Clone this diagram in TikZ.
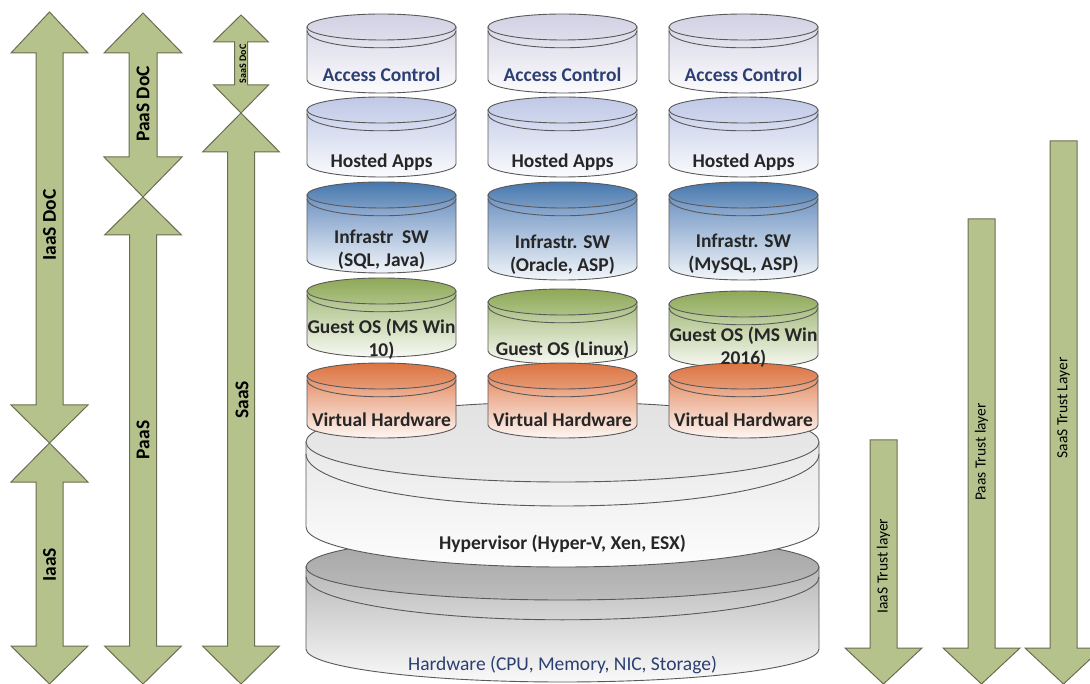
\documentclass[tikz,border=0pt]{standalone}
\usepackage{fontspec}
\setmainfont{Carlito}
\definecolor{edgegray}{HTML}{595959}
\definecolor{arrowfill}{HTML}{B6C28C}
\definecolor{arrowedge}{HTML}{6B6D50}
\definecolor{acTop}{HTML}{D2D1E4}
\definecolor{acBody}{HTML}{D9D8E8}
\definecolor{haTop}{HTML}{BFC8E6}
\definecolor{haBody}{HTML}{C8D0EA}
\definecolor{isTop}{HTML}{4677AE}
\definecolor{isBody}{HTML}{6D92C2}
\definecolor{goTop}{HTML}{8EA957}
\definecolor{goBody}{HTML}{A6BC7C}
\definecolor{vhTop}{HTML}{DD7341}
\definecolor{vhBody}{HTML}{E58E66}
\definecolor{hvTop}{HTML}{E2E2E2}
\definecolor{hvBody}{HTML}{E8E8E8}
\definecolor{hwTop}{HTML}{A3A3A3}
\definecolor{hwBody}{HTML}{B8B8B8}
\definecolor{txtBlue}{HTML}{2B3F73}
\definecolor{txtDark}{HTML}{262626}

\tikzset{
  drumedge/.style={draw=edgegray, line width=0.9pt},
  arrowshape/.style={draw=arrowedge, fill=arrowfill, line width=1pt, line join=miter},
  lyrtxt/.style={font=\fontsize{19.5}{23}\selectfont\bfseries, text=txtDark, align=center, inner sep=0pt},
  blutxt/.style={lyrtxt, text=txtBlue},
  hwtxt/.style={font=\fontsize{19.5}{23}\selectfont, text=txtBlue, inner sep=0pt},
  doctxt/.style={font=\fontsize{19.5}{23}\selectfont\bfseries, text=black, rotate=90, inner sep=0pt},
  smalldoc/.style={font=\fontsize{10}{12}\selectfont\bfseries, text=black, rotate=90, inner sep=0pt},
  trusttxt/.style={font=\fontsize{15.5}{18}\selectfont, text=black, rotate=90, inner sep=0pt},
}

% drum: name, centre x, top y, bottom y, x radius, y radius, lid colour, body colour
\newcommand\drum[8]{%
  \pgfmathsetmacro\dL{#2-#5}\pgfmathsetmacro\dR{#2+#5}%
  \pgfmathsetmacro\dC{#3+#6}\pgfmathsetmacro\dB{#4-#6}%
  \pgfmathsetmacro\dRim{#3+1.3*#6}\pgfmathsetmacro\dRimR{1.3*#6}%
  \path[drumedge, top color=#8, bottom color=#8!8!white]
    (\dL,\dC) -- (\dL,\dB) arc[start angle=180, end angle=360, x radius=#5pt, y radius=#6pt]
    -- (\dR,\dC) -- cycle;
  \path[drumedge, top color=#7, bottom color=#7!72!white]
    (#2,\dC) ellipse[x radius=#5pt, y radius=#6pt];
  \draw[drumedge] (\dL,\dRim) arc[start angle=180, end angle=360, x radius=#5pt, y radius=\dRimR pt];
  \coordinate (#1) at (#2,\dC);
}

% double-headed arrow: centre x, upper tip, upper head base, lower head base, lower tip, head half-width, shaft half-width
\newcommand\twoway[7]{%
  \filldraw[arrowshape] (#1,#2) -- ({#1+#6},#3) -- ({#1+#7},#3) -- ({#1+#7},#4) -- ({#1+#6},#4)
    -- (#1,#5) -- ({#1-#6},#4) -- ({#1-#7},#4) -- ({#1-#7},#3) -- ({#1-#6},#3) -- cycle;
}
% downward arrow: centre x, top, head base, tip, head half-width, shaft half-width
\newcommand\oneway[6]{%
  \filldraw[arrowshape] ({#1-#6},#2) -- ({#1+#6},#2) -- ({#1+#6},#3) -- ({#1+#5},#3)
    -- (#1,#4) -- ({#1-#5},#3) -- ({#1-#6},#3) -- cycle;
}

\begin{document}
\begin{tikzpicture}[x=1pt, y=-1pt]
\fill[white] (0,0) rectangle (1090,684);
\useasboundingbox (0,0) rectangle (1090,684);

% left-hand domain-of-control arrows
\twoway{49.5}{12}{53}{405}{443}{38.5}{13.5}
\twoway{49.5}{443}{482}{646}{684}{38.5}{13.5}
\twoway{143}{13}{53}{157}{197}{39}{14}
\twoway{143}{197}{235}{646}{684}{38.5}{13.5}
\twoway{241}{15}{42}{85}{113}{27.5}{6.5}
\twoway{241}{113}{152}{646}{684}{38.5}{13.5}

% right-hand trust layer arrows
\oneway{883.5}{440}{648}{684}{38.5}{13.5}
\oneway{981.5}{219}{648}{684}{38.5}{13.5}
\oneway{1063.5}{141}{648}{684}{38.5}{13.5}

% shared platform
\drum{hw}{562.5}{534}{682}{256.5}{33}{hwTop}{hwBody}
\drum{hv}{562.5}{402}{567}{256.5}{40}{hvTop}{hvBody}

% tenant stacks
\foreach \cx in {381.5,562.5,743.5}{
  \drum{ac}{\cx}{14}{93}{74.5}{13}{acTop}{acBody}
  \drum{ha}{\cx}{97}{177}{74.5}{13}{haTop}{haBody}
}
\drum{is1}{381.5}{182}{273}{74.5}{13}{isTop}{isBody}
\drum{is2}{562.5}{182}{280}{74.5}{13}{isTop}{isBody}
\drum{is3}{743.5}{182}{280}{74.5}{13}{isTop}{isBody}
\drum{go1}{381.5}{278}{357}{74.5}{13}{goTop}{goBody}
\drum{go2}{562.5}{289}{364}{74.5}{13}{goTop}{goBody}
\drum{go3}{743.5}{291}{368}{74.5}{13}{goTop}{goBody}
\foreach \cx in {381.5,562.5,743.5}{
  \drum{vh}{\cx}{363}{438}{74.5}{13}{vhTop}{vhBody}
}

% layer captions
\node[blutxt] (ac1) at (381.5,75) {Access Control};
\node[blutxt] (ac2) at (562.5,75) {Access Control};
\node[blutxt] (ac3) at (743.5,75) {Access Control};
\node[lyrtxt] (ha1) at (381.5,162) {Hosted Apps};
\node[lyrtxt] (ha2) at (562.5,162) {Hosted Apps};
\node[lyrtxt] (ha3) at (743.5,162) {Hosted Apps};
\node[lyrtxt] (ist1) at (381.5,250) {Infrastr\ \ SW\\(SQL, Java)};
\node[lyrtxt] (ist2) at (562.5,255) {Infrastr. SW\\(Oracle, ASP)};
\node[lyrtxt] (ist3) at (743.5,254) {Infrastr. SW\\(MySQL, ASP)};
\node[lyrtxt] (got1) at (381.5,339) {Guest OS (MS Win\\10)};
\node[lyrtxt] (got2) at (562.5,350) {Guest OS (Linux)};
\node[lyrtxt] (got3) at (743.5,347) {Guest OS (MS Win\\2016)};
\node[lyrtxt] (vh1) at (381.5,420) {Virtual Hardware};
\node[lyrtxt] (vh2) at (562.5,420) {Virtual Hardware};
\node[lyrtxt] (vh3) at (743.5,420) {Virtual Hardware};
\node[lyrtxt] (hvt) at (562.5,544) {Hypervisor (Hyper-V, Xen, ESX)};
\node[hwtxt] (hwt) at (562.5,665) {Hardware (CPU, Memory, NIC, Storage)};

% arrow captions
\node[doctxt] (iaasdoc) at (49.5,225) {IaaS DoC};
\node[doctxt] (paasdoc) at (143,104) {PaaS DoC};
\node[smalldoc] (saasdoc) at (243,64) {SaaS DoC};
\node[doctxt] (iaas) at (49.5,565) {IaaS};
\node[doctxt] (paas) at (143,440) {PaaS};
\node[doctxt] (saas) at (242,400) {SaaS};
\node[trusttxt] (iaastl) at (883.5,566) {IaaS Trust layer};
\node[trusttxt] (paastl) at (981.5,452) {Paas Trust layer};
\node[trusttxt] (saastl) at (1063.5,408) {SaaS Trust Layer};
\end{tikzpicture}
\end{document}
